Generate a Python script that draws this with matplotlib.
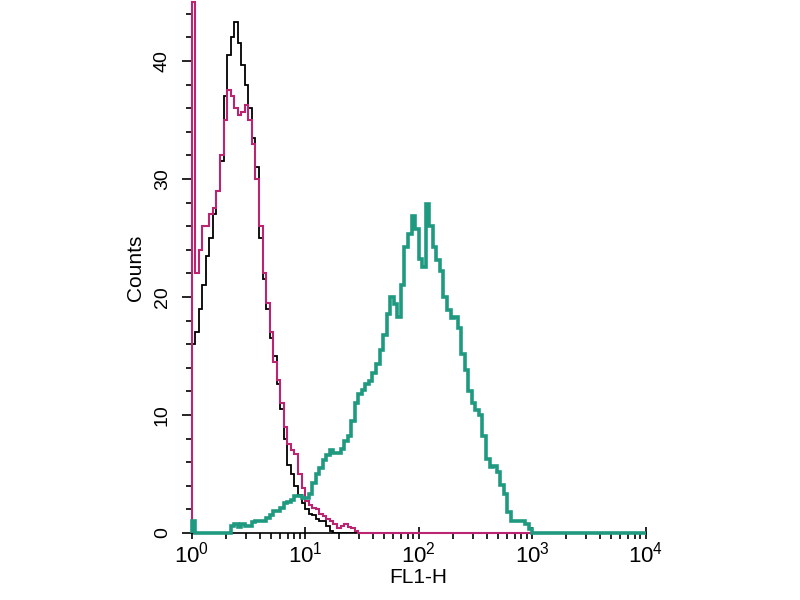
import numpy as np
import matplotlib
matplotlib.use("Agg")
import matplotlib.pyplot as plt
from matplotlib.ticker import LogLocator, MultipleLocator, NullFormatter

plt.rcParams['font.family'] = ['Liberation Sans', 'DejaVu Sans']

# histogram channels: 32 per decade, 4 decades (10^0 .. 10^4)
n_per_decade = 32
n_bins = 4 * n_per_decade

# black histogram (control), counts per channel from 10^0 upward
black_counts = [16, 17, 19, 21, 23.5, 25, 27, 29, 31.5, 37,
                40.5, 42, 43.3, 41.5, 39.7, 38, 36, 33.5, 31, 25,
                21.5, 19, 16.5, 15, 12.6, 10.5, 8, 5.8, 5, 4,
                3.2, 2.5, 2, 1.6, 1.5, 1.2, 1, 1, 0.6, 0.2]

# magenta histogram (first channel is off scale)
magenta_counts = [45, 22, 24, 26, 26, 27, 27.5, 29, 32, 35,
                  37.5, 37, 36, 35.4, 35.7, 36.3, 35, 33, 30, 26,
                  22, 19.5, 17, 14.5, 13, 11, 9, 7.5, 7, 6.7,
                  5, 3.8, 2.7, 2.4, 2.1, 2, 1.6, 1.4, 1.2, 1,
                  0.8, 0.4, 0.6, 0.8, 0.5, 0.4, 0.2]

# teal histogram (stained sample)
teal_counts = [1, 0, 0, 0, 0, 0, 0, 0, 0, 0,
               0, 0.6, 0.8, 0.5, 0.8, 0.6, 0.6, 0.9, 1.0, 1.0,
               1.0, 1.3, 1.5, 1.9, 1.9, 2.1, 2.5, 2.6, 2.8, 3.1,
               3.1, 3.0, 3.0, 3.3, 4.2, 5.0, 5.5, 6.2, 6.6, 7.0,
               6.8, 6.8, 7.1, 7.8, 8.2, 9.5, 11.0, 11.8, 12.1, 12.6,
               12.9, 13.6, 14.3, 15.5, 16.8, 18.6, 20.0, 19.4, 18.3, 21.0,
               24.2, 25.3, 26.9, 25.8, 23.2, 22.5, 27.9, 26.0, 24.2, 23.1,
               22.2, 20.0, 18.9, 18.2, 18.3, 17.4, 15.2, 13.8, 12.0, 11.0,
               10.4, 10.0, 8.2, 6.3, 5.6, 5.7, 5.2, 4.1, 3.3, 1.8,
               1.0, 1.0, 1.0, 1.0, 0.8, 0.3]


def pad(vals):
    out = np.zeros(n_bins)
    out[:len(vals)] = vals
    return out


edges = 10 ** (np.arange(n_bins + 1) / n_per_decade)

fig = plt.figure(figsize=(8, 6), dpi=100)
ax = fig.add_axes([0.2395, 0.1117, 0.5675, 0.885])

ax.stairs(pad(black_counts), edges, color='black', lw=1.3, zorder=2.5)
ax.stairs(pad(magenta_counts), edges, color='#bb2470', lw=1.5, zorder=3, clip_on=False)
ax.stairs(pad(teal_counts), edges, color='#1f9a80', lw=2.6, zorder=4, clip_on=False)

ax.set_xscale('log')
ax.set_xlim(1, 1e4)
ax.set_ylim(0, 45)

for s in ['top', 'right']:
    ax.spines[s].set_visible(False)
ax.spines['left'].set_linewidth(1.2)
ax.spines['bottom'].set_linewidth(1.2)

ax.yaxis.set_major_locator(MultipleLocator(10))
ax.yaxis.set_minor_locator(MultipleLocator(2))
ax.xaxis.set_major_locator(LogLocator(base=10, numticks=10))
ax.xaxis.set_minor_locator(LogLocator(base=10, subs=np.arange(2, 10), numticks=20))
ax.xaxis.set_minor_formatter(NullFormatter())

ax.tick_params(axis='y', which='major', direction='out', length=7, width=1.2, labelsize=14, pad=8)
ax.tick_params(axis='y', which='minor', direction='out', length=4.5, width=1.2)
ax.tick_params(axis='x', which='major', direction='inout', length=9, width=1.2, labelsize=16, pad=2)
ax.tick_params(axis='x', which='minor', direction='out', length=4.5, width=1.2)
for lab in ax.get_yticklabels():
    lab.set_rotation(90)
    lab.set_va('center')

ax.set_ylabel('Counts', fontsize=15, labelpad=6)
ax.set_xlabel('FL1-H', fontsize=15, labelpad=0)

fig.savefig('out.png', dpi=100)
